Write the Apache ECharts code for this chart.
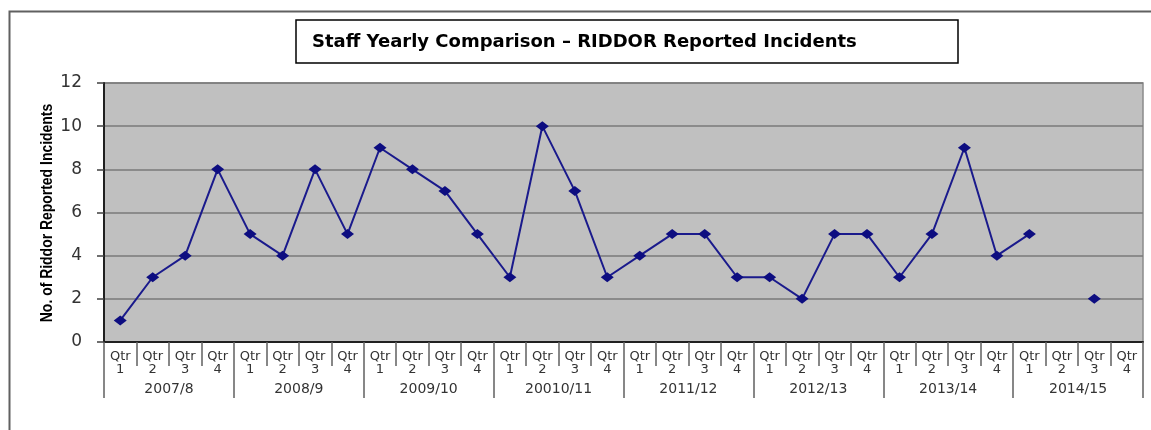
<!DOCTYPE html>
<html>
<head>
<meta charset="utf-8">
<title>Staff Yearly Comparison – RIDDOR Reported Incidents</title>
<script src="https://cdn.jsdelivr.net/npm/echarts@6/dist/echarts.min.js"></script>
<style>
  html, body { margin: 0; padding: 0; background: #ffffff; }
  #chart { width: 1151px; height: 430px; }
</style>
</head>
<body>
<div id="chart"></div>
<script>
// Financial years, each split into four quarters
const years = ['2007/8', '2008/9', '2009/10', '20010/11', '2011/12', '2012/13', '2013/14', '2014/15'];
const quarters = ['Qtr\n1', 'Qtr\n2', 'Qtr\n3', 'Qtr\n4'];

// RIDDOR reported incidents per quarter (null = no figure reported)
const incidents2007 = [1, 3, 4, 8];
const incidents2008 = [5, 4, 8, 5];
const incidents2009 = [9, 8, 7, 5];
const incidents2010 = [3, 10, 7, 3];
const incidents2011 = [4, 5, 5, 3];
const incidents2012 = [3, 2, 5, 5];
const incidents2013 = [3, 5, 9, 4];
const incidents2014 = [5, null, 2, null];

const yTicks = { min: 0, max: 12, interval: 2 };

const quarterLabels = years.flatMap(() => quarters);
const incidents = [].concat(
  incidents2007, incidents2008, incidents2009, incidents2010,
  incidents2011, incidents2012, incidents2013, incidents2014
);

const chart = echarts.init(document.getElementById('chart'), null, { renderer: 'canvas' });

chart.setOption({
  animation: false,
  backgroundColor: '#ffffff',
  title: {
    text: 'Staff Yearly Comparison – RIDDOR Reported Incidents',
    left: 296,
    top: 20,
    padding: [13, 101, 12, 16],
    borderColor: '#000000',
    borderWidth: 1.5,
    textStyle: {
      fontFamily: 'DejaVu Sans',
      fontWeight: 'bold',
      fontSize: 18,
      color: '#000000'
    }
  },
  graphic: [
    {
      // outer chart frame (right and bottom edges run off the canvas)
      type: 'rect',
      left: 7,
      top: 9,
      shape: { width: 1200, height: 500 },
      style: { fill: 'none', stroke: '#606060', lineWidth: 2 },
      silent: true
    },
    {
      // condensed vertical axis title
      type: 'text',
      x: 47,
      y: 213,
      rotation: Math.PI / 2,
      scaleX: 0.82,
      style: {
        text: 'No. of Riddor Reported Incidents',
        font: 'bold 17px "Liberation Sans", Arial, sans-serif',
        fill: '#000000',
        align: 'center',
        verticalAlign: 'middle'
      },
      silent: true
    }
  ],
  grid: {
    left: 104,
    right: 8,
    top: 83,
    bottom: 88,
    show: true,
    backgroundColor: '#c0c0c0',
    borderColor: '#8a8a8a',
    borderWidth: 1.5
  },
  xAxis: [
    {
      type: 'category',
      data: quarterLabels,
      boundaryGap: true,
      axisLine: { show: true, lineStyle: { color: '#202020', width: 2 } },
      axisTick: { show: true, interval: 0, length: 24, lineStyle: { color: '#606060', width: 1.5 } },
      axisLabel: {
        interval: 0,
        margin: 8,
        fontFamily: 'DejaVu Sans',
        fontSize: 13,
        lineHeight: 13,
        color: '#333333'
      },
      splitLine: { show: false }
    },
    {
      type: 'category',
      data: years,
      position: 'bottom',
      offset: 24,
      boundaryGap: true,
      axisLine: { show: false },
      axisTick: { show: true, interval: 0, length: 32, lineStyle: { color: '#606060', width: 1.5 } },
      axisLabel: {
        interval: 0,
        margin: 16,
        fontFamily: 'DejaVu Sans',
        fontSize: 14,
        color: '#333333'
      },
      splitLine: { show: false }
    }
  ],
  yAxis: {
    type: 'value',
    min: yTicks.min,
    max: yTicks.max,
    interval: yTicks.interval,
    axisLine: { show: true, lineStyle: { color: '#202020', width: 2 } },
    axisTick: { show: true, length: 7, lineStyle: { color: '#404040', width: 1.5 } },
    axisLabel: {
      margin: 22,
      fontFamily: 'DejaVu Sans',
      fontSize: 17,
      color: '#333333'
    },
    splitLine: { show: true, lineStyle: { color: '#7a7a7a', width: 1.5 } }
  },
  series: [
    {
      type: 'line',
      xAxisIndex: 0,
      data: incidents,
      connectNulls: false,
      showAllSymbol: true,
      symbol: 'diamond',
      symbolSize: [13, 10],
      lineStyle: { color: '#1a1a8c', width: 2 },
      itemStyle: { color: '#0d0d80' }
    }
  ]
});
</script>
</body>
</html>
